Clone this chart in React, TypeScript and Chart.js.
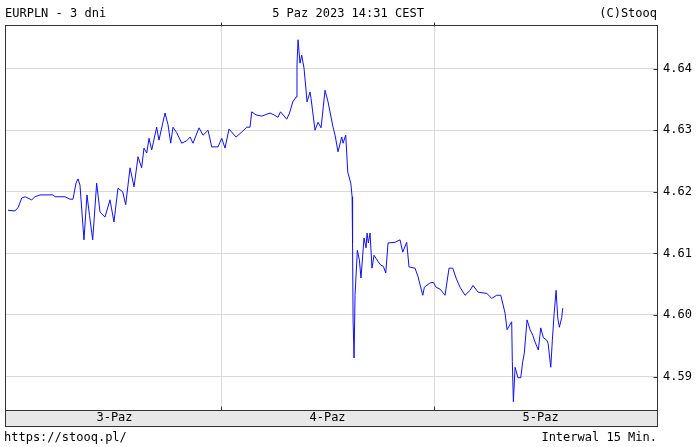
import React, { useEffect, useRef } from "react";
import { Chart, registerables } from "chart.js";

Chart.register(...registerables);

// hours since 3 Oct 2023 00:00 (15-min data, sampled)
const times: number[] = [
  0, 0.79, 1.16, 1.54, 1.92, 2.67, 3.04, 3.61, 5.07, 5.3, 6.42, 6.99, 7.32, 7.66, 7.89, 8.11,
  8.56, 8.9, 9.18, 9.54, 9.99, 10.37, 10.93, 11.49, 11.94, 12.39, 12.92, 13.26, 13.75, 14.2,
  14.65, 15.06, 15.32, 15.63, 15.89, 16.19, 16.75, 17.01, 17.69, 18.03, 18.33, 18.59, 19.01,
  19.57, 20.14, 20.51, 20.85, 21.52, 21.97, 22.54, 22.95, 23.66, 24.08, 24.45, 24.9, 25.69,
  26.25, 26.9, 27.27, 27.46, 27.94, 28.59, 28.96, 29.52, 29.97, 30.42, 30.7, 31.4, 31.72,
  32.08, 32.45, 32.56, 32.68, 32.9, 33.09, 33.35, 33.58, 33.69, 34.03, 34.14, 34.59, 34.93,
  35.27, 35.72, 36.06, 36.62, 36.85, 37.18, 37.6, 37.75, 38.05, 38.28, 38.62, 38.77, 38.82,
  38.88, 38.99, 39.1, 39.36, 39.59, 39.77, 40.11, 40.34, 40.45, 40.6, 40.79, 41.01, 41.24,
  41.73, 42.0, 42.29, 42.56, 42.82, 43.61, 44.17, 44.47, 44.92, 45.18, 45.86, 46.2, 46.73,
  46.91, 47.55, 47.92, 48.23, 48.68, 49.24, 49.69, 50.11, 50.48, 50.93, 51.49, 52.06, 52.39,
  52.96, 53.94, 54.5, 55.06, 55.52, 56.0, 56.23, 56.75, 56.82, 56.94, 57.13, 57.46, 57.77,
  57.99, 58.17, 58.48, 58.82, 59.12, 59.38, 59.75, 60.02, 60.32, 60.7, 60.85, 61.15, 61.33,
  61.52, 61.75, 61.94, 62.12, 62.39, 62.5,
];

const prices: number[] = [
  4.617, 4.6169, 4.6175, 4.619, 4.6192, 4.6187, 4.6192, 4.6195, 4.6195, 4.6192, 4.6192, 4.6188,
  4.6188, 4.6214, 4.6221, 4.6211, 4.6122, 4.6195, 4.6162, 4.6122, 4.6214, 4.6167, 4.6159,
  4.6187, 4.6151, 4.6206, 4.62, 4.6179, 4.6239, 4.6208, 4.6257, 4.6239, 4.6271, 4.6263,
  4.6287, 4.6268, 4.6305, 4.6284, 4.6328, 4.6309, 4.6279, 4.6305, 4.6296, 4.6279, 4.6283,
  4.6289, 4.6279, 4.6304, 4.6292, 4.63, 4.6273, 4.6273, 4.6287, 4.6271, 4.6302, 4.6289,
  4.6296, 4.6305, 4.6305, 4.633, 4.6325, 4.6323, 4.6325, 4.6328, 4.6325, 4.6321, 4.633,
  4.6318, 4.6328, 4.6346, 4.6354, 4.6406, 4.6447, 4.6409, 4.6422, 4.6401, 4.6365, 4.6346,
  4.6362, 4.6352, 4.63, 4.6313, 4.6304, 4.6365, 4.6346, 4.6305, 4.6292, 4.6265, 4.6289,
  4.6279, 4.6292, 4.6232, 4.6214, 4.6192, 4.6117, 4.5992, 4.593, 4.6032, 4.6105, 4.6089,
  4.606, 4.6125, 4.6109, 4.6133, 4.6117, 4.6133, 4.6076, 4.6097, 4.6086, 4.6081, 4.6079,
  4.6068, 4.6117, 4.6118, 4.6122, 4.6102, 4.6118, 4.6078, 4.6076, 4.6062, 4.6032, 4.6045,
  4.6052, 4.6053, 4.6045, 4.6042, 4.6032, 4.6076, 4.6076, 4.606, 4.6045, 4.6032, 4.604,
  4.6048, 4.6037, 4.6035, 4.6027, 4.6032, 4.6032, 4.6003, 4.5976, 4.5989, 4.5924, 4.5859,
  4.5915, 4.5898, 4.5898, 4.5924, 4.5938, 4.5992, 4.5976, 4.5967, 4.5956, 4.5943, 4.5979,
  4.5963, 4.5959, 4.5954, 4.5915, 4.5959, 4.6, 4.604, 4.5995, 4.598, 4.5996, 4.6011,
];

const dayLabels: string[] = ["3-Paz", "4-Paz", "5-Paz"];
const dayBoundaries: number[] = [24, 48];
const yTicks: number[] = [4.59, 4.6, 4.61, 4.62, 4.63, 4.64];

const MONO = "'DejaVu Sans Mono', monospace";

const framePlugin = {
  id: "stooqFrame",
  beforeDraw(chart: any) {
    const { ctx, chartArea } = chart;
    ctx.save();
    ctx.fillStyle = "#ffffff";
    ctx.fillRect(0, 0, chart.width, chart.height);
    ctx.fillStyle = "#e8e8e8";
    ctx.fillRect(chartArea.left, chartArea.bottom, chartArea.right - chartArea.left, 16);
    ctx.restore();
  },
  afterDraw(chart: any) {
    const { ctx, chartArea } = chart;
    const l = Math.round(chartArea.left) + 0.5;
    const r = Math.round(chartArea.right) + 0.5;
    const t = Math.round(chartArea.top) + 0.5;
    const b = Math.round(chartArea.bottom) + 0.5;
    ctx.save();
    ctx.strokeStyle = "#333333";
    ctx.lineWidth = 1;
    ctx.strokeRect(l, t, r - l, b - t);
    ctx.strokeRect(l, b, r - l, 16);
    const xs = chart.scales.x;
    ctx.beginPath();
    dayBoundaries.forEach((d) => {
      const px = Math.round(xs.getPixelForValue(d)) + 0.5;
      ctx.moveTo(px, b - 4);
      ctx.lineTo(px, b);
      ctx.moveTo(px, t - 3);
      ctx.lineTo(px, t + 1);
    });
    const ys = chart.scales.y;
    yTicks.forEach((v) => {
      const py = Math.round(ys.getPixelForValue(v)) + 0.5;
      ctx.moveTo(r - 4, py);
      ctx.lineTo(r, py);
    });
    ctx.stroke();
    ctx.restore();
  },
};

export default function App() {
  const ref = useRef<HTMLCanvasElement>(null);

  useEffect(() => {
    document.body.style.margin = "0";
    const canvas = ref.current;
    if (!canvas) return;
    const points = times.map((t, i) => ({ x: t, y: prices[i] }));
    const chart = new Chart(canvas, {
      type: "line",
      data: {
        datasets: [
          {
            data: points,
            borderColor: "#1010f0",
            borderWidth: 1,
            pointRadius: 0,
            tension: 0,
            fill: false,
          },
        ],
      },
      plugins: [framePlugin],
      options: {
        animation: false,
        responsive: false,
        devicePixelRatio: 1,
        layout: { padding: { left: 5, top: 25, right: 0, bottom: 21 } },
        plugins: { legend: { display: false }, tooltip: { enabled: false } },
        scales: {
          x: {
            type: "linear",
            position: "bottom",
            weight: 0,
            min: -0.338,
            max: 73.12,
            border: { display: false },
            grid: { color: "#dadada", drawTicks: false, lineWidth: 1 },
            ticks: { display: false },
            afterBuildTicks: (axis: any) => {
              axis.ticks = dayBoundaries.map((v) => ({ value: v }));
            },
            afterFit: (axis: any) => {
              axis.height = 0;
            },
          },
          x2: {
            type: "linear",
            position: "bottom",
            weight: 1,
            min: -0.338,
            max: 73.12,
            border: { display: false },
            grid: { display: false, drawTicks: false },
            ticks: {
              color: "#000000",
              font: { family: MONO, size: 12 },
              padding: 1,
              maxRotation: 0,
              autoSkip: false,
              callback: (value: any) => {
                const idx = Math.floor(Number(value) / 24);
                return dayLabels[idx] ?? "";
              },
            },
            afterBuildTicks: (axis: any) => {
              axis.ticks = dayLabels.map((_, i) => ({ value: i * 24 + 12 }));
            },
            afterFit: (axis: any) => {
              axis.height = 16;
            },
          },
          y: {
            type: "linear",
            position: "right",
            min: 4.58456,
            max: 4.6471,
            border: { display: false },
            grid: { color: "#dadada", drawTicks: false, lineWidth: 1 },
            ticks: {
              color: "#000000",
              font: { family: MONO, size: 12 },
              padding: 6,
              callback: (value: any) => Number(value).toFixed(2),
            },
            afterBuildTicks: (axis: any) => {
              axis.ticks = yTicks.map((v) => ({ value: v }));
            },
            afterFit: (axis: any) => {
              axis.width = 39;
            },
          },
        },
      },
    });
    return () => chart.destroy();
  }, []);

  const textStyle: React.CSSProperties = {
    position: "absolute",
    fontFamily: MONO,
    fontSize: "12px",
    lineHeight: "14px",
    color: "#000",
    whiteSpace: "pre",
  };

  return (
    <div style={{ position: "relative", width: 696, height: 447, background: "#fff" }}>
      <canvas ref={ref} width={696} height={447} style={{ width: 696, height: 447, display: "block" }} />
      <div style={{ ...textStyle, left: 5, top: 6 }}>EURPLN - 3 dni</div>
      <div style={{ ...textStyle, left: 0, width: 696, top: 6, textAlign: "center" }}>5 Paz 2023 14:31 CEST</div>
      <div style={{ ...textStyle, right: 39, top: 6 }}>(C)Stooq</div>
      <div style={{ ...textStyle, left: 4, top: 430 }}>https://stooq.pl/</div>
      <div style={{ ...textStyle, right: 39, top: 430 }}>Interwal 15 Min.</div>
    </div>
  );
}
